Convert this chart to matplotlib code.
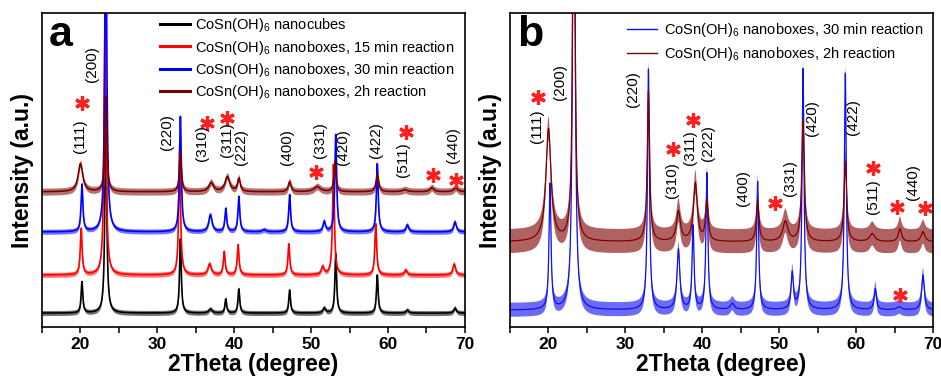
import numpy as np
import matplotlib
matplotlib.use('Agg')
import matplotlib.pyplot as plt
from matplotlib.ticker import MultipleLocator

plt.rcParams['font.family'] = ['Liberation Sans', 'DejaVu Sans']
plt.rcParams['mathtext.default'] = 'regular'

# ------------------------------------------------------------------ data
x_range = (15, 70)
y_range = (0, 313)

# Panel a: four patterns (peak positions in 2theta, peak heights, half widths)
a_labels = ['CoSn(OH)$_6$ nanocubes',
            'CoSn(OH)$_6$ nanoboxes, 15 min reaction',
            'CoSn(OH)$_6$ nanoboxes, 30 min reaction',
            'CoSn(OH)$_6$ nanoboxes, 2h reaction']
a_colors = ['#000000', '#ff0000', '#0000ff', '#7a0000']
a_offsets = [14, 52, 95, 135]
a_noise = [2.5, 2.5, 2.5, 3.5]

a_black_pos = [20.2, 23.3, 33.0, 36.9, 38.9, 40.6, 47.2, 51.7, 53.2, 58.6, 62.5, 68.7]
a_black_h = [31, 200, 74, 4, 14, 24, 23, 5, 59, 38, 3, 5]
a_black_w = [0.13, 0.14, 0.13, 0.25, 0.13, 0.13, 0.13, 0.2, 0.13, 0.13, 0.2, 0.2]

a_red_pos = [20.1, 23.2, 32.9, 36.8, 38.7, 40.5, 47.1, 51.5, 52.9, 58.4, 62.3, 68.6]
a_red_h = [46, 260, 125, 11, 23, 30, 31, 8, 110, 51, 5, 11]
a_red_w = [0.14, 0.15, 0.14, 0.25, 0.14, 0.14, 0.14, 0.2, 0.14, 0.14, 0.2, 0.2]

a_blue_pos = [20.2, 23.3, 33.0, 36.9, 38.9, 40.6, 43.9, 47.2, 51.7, 53.2, 58.6, 62.5, 68.7]
a_blue_h = [47, 330, 115, 17, 23, 35, 2, 37, 10, 97, 68, 7, 10]
a_blue_w = [0.14, 0.15, 0.14, 0.25, 0.14, 0.14, 0.3, 0.14, 0.18, 0.14, 0.14, 0.2, 0.2]

a_dred_pos = [20.0, 23.3, 33.0, 37.0, 39.1, 40.6, 47.2, 50.8, 53.1, 58.6, 62.2, 65.7, 68.8]
a_dred_h = [28, 95, 40, 9, 15, 13, 10, 5, 30, 17, 2, 4, 4]
a_dred_w = [0.35, 0.15, 0.15, 0.35, 0.35, 0.2, 0.2, 0.5, 0.15, 0.2, 0.4, 0.3, 0.3]

a_hkl = ['(111)', '(200)', '(220)', '(310)', '(311)', '(222)',
         '(400)', '(331)', '(420)', '(422)', '(511)', '(440)']
a_hkl_x = [19.95, 21.5, 31.3, 35.8, 39.0, 40.9, 46.9, 51.2, 54.2, 58.4, 62.0, 68.4]
a_hkl_y = [190, 262, 195, 184, 187, 180, 180, 187, 180, 187, 167, 182]
a_star_x = [20.2, 36.5, 39.1, 50.6, 62.3, 65.8, 68.8]
a_star_y = [224, 204, 209, 155, 195, 152, 147]

# Panel b: two patterns
b_labels = ['CoSn(OH)$_6$ nanoboxes, 30 min reaction',
            'CoSn(OH)$_6$ nanoboxes, 2h reaction']
b_colors = ['#1010f0', '#800000']
b_offsets = [17, 85]
b_noise = [7, 12]

b_blue_pos = [20.2, 23.3, 33.0, 36.9, 38.8, 40.6, 43.9, 47.2, 51.7, 53.1, 58.6, 62.5, 65.6, 68.7]
b_blue_h = [125, 700, 240, 60, 83, 136, 6, 128, 36, 240, 236, 21, 3, 35]
b_blue_w = [0.15, 0.15, 0.15, 0.22, 0.15, 0.15, 0.3, 0.15, 0.18, 0.15, 0.15, 0.18, 0.4, 0.2]

b_dred_pos = [20.0, 23.3, 33.0, 36.9, 39.1, 40.6, 47.2, 50.8, 53.1, 58.6, 62.1, 65.7, 68.7]
b_dred_h = [112, 400, 150, 30, 58, 40, 40, 20, 120, 80, 8, 13, 10]
b_dred_w = [0.4, 0.18, 0.18, 0.3, 0.3, 0.2, 0.2, 0.4, 0.2, 0.2, 0.4, 0.25, 0.3]

b_hkl = a_hkl
b_hkl_x = [18.5, 21.5, 31.0, 36.1, 38.4, 40.75, 45.3, 51.4, 54.3, 59.6, 62.2, 67.4]
b_hkl_y = [200, 244, 237, 147, 179, 184, 139, 149, 209, 210, 130, 145]
b_star_x = [18.6, 36.2, 38.8, 49.5, 62.2, 65.3, 69.0, 65.7]
b_star_y = [230, 178, 207, 124, 159, 120, 119, 32]

xlabel = '2Theta (degree)'
ylabel = 'Intensity (a.u.)'

# ------------------------------------------------------------------ helpers
tt = np.linspace(x_range[0], x_range[1], 2751)


def pattern(pos, h, w, offset):
    y = np.full_like(tt, float(offset))
    for p, hh, ww in zip(pos, h, w):
        y += hh / (1.0 + ((tt - p) / ww) ** 2)
    return y


def style_axes(ax, letter):
    ax.set_xlim(*x_range)
    ax.set_ylim(*y_range)
    ax.xaxis.set_major_locator(MultipleLocator(10))
    ax.xaxis.set_minor_locator(MultipleLocator(5))
    ax.tick_params(axis='x', which='both', direction='out', length=4, width=1.1,
                   top=False, pad=3)
    ax.tick_params(axis='y', which='both', left=False, labelleft=False)
    for lab in ax.get_xticklabels():
        lab.set_fontweight('bold')
        lab.set_fontsize(12.5)
    for s in ax.spines.values():
        s.set_linewidth(1.2)
    ax.set_xlabel(xlabel, fontsize=16.5, fontweight='bold', labelpad=1)
    ax.set_ylabel(ylabel, fontsize=16.5, fontweight='bold', labelpad=6)
    ax.text(0.016, 0.895, letter, transform=ax.transAxes, fontsize=31,
            fontweight='bold', ha='left', va='baseline')


fig = plt.figure(figsize=(9.41, 3.8), dpi=100)
ax_a = fig.add_axes([0.0446, 0.139, 0.4495, 0.826])
ax_b = fig.add_axes([0.5420, 0.139, 0.4495, 0.826])

# ------------------------------------------------------------------ panel a
a_series = [(a_black_pos, a_black_h, a_black_w),
            (a_red_pos, a_red_h, a_red_w),
            (a_blue_pos, a_blue_h, a_blue_w),
            (a_dred_pos, a_dred_h, a_dred_w)]
for (pos, h, w), off, nz, col, lab in zip(a_series, a_offsets, a_noise, a_colors, a_labels):
    y = pattern(pos, h, w, off)
    ax_a.fill_between(tt, y - nz, y + nz, color=col, alpha=0.55, lw=0)
    ax_a.plot(tt, y, color=col, lw=1.2, label=lab)

for t, x, y in zip(a_hkl, a_hkl_x, a_hkl_y):
    ax_a.text(x, y, t, rotation=90, ha='center', va='center', fontsize=11)
ax_a.plot(a_star_x, a_star_y, ls='none', marker=(6, 2, 0), ms=10.5, mew=2.3,
          color='#ff2020')
leg = ax_a.legend(loc='upper left', bbox_to_anchor=(0.279, 0.99), frameon=False,
                  fontsize=10.5, handlelength=2.05, handletextpad=0.35,
                  labelspacing=0.28, borderpad=0, borderaxespad=0)
for l in leg.get_lines():
    l.set_linewidth(2.2)
style_axes(ax_a, 'a')

# ------------------------------------------------------------------ panel b
b_series = [(b_blue_pos, b_blue_h, b_blue_w),
            (b_dred_pos, b_dred_h, b_dred_w)]
for (pos, h, w), off, nz, col, lab in zip(b_series, b_offsets, b_noise, b_colors, b_labels):
    y = pattern(pos, h, w, off)
    ax_b.fill_between(tt, y - nz, y + nz, color=col, alpha=0.62, lw=0)
    ax_b.plot(tt, y, color=col, lw=0.9, label=lab)

for t, x, y in zip(b_hkl, b_hkl_x, b_hkl_y):
    ax_b.text(x, y, t, rotation=90, ha='center', va='center', fontsize=11)
ax_b.plot(b_star_x, b_star_y, ls='none', marker=(6, 2, 0), ms=10.5, mew=2.3,
          color='#ff2020')
leg = ax_b.legend(loc='upper left', bbox_to_anchor=(0.277, 0.975), frameon=False,
                  fontsize=10.5, handlelength=2.05, handletextpad=0.45,
                  labelspacing=0.4, borderpad=0, borderaxespad=0)
for l in leg.get_lines():
    l.set_linewidth(1.0)
style_axes(ax_b, 'b')

fig.savefig('out.png', dpi=100)
